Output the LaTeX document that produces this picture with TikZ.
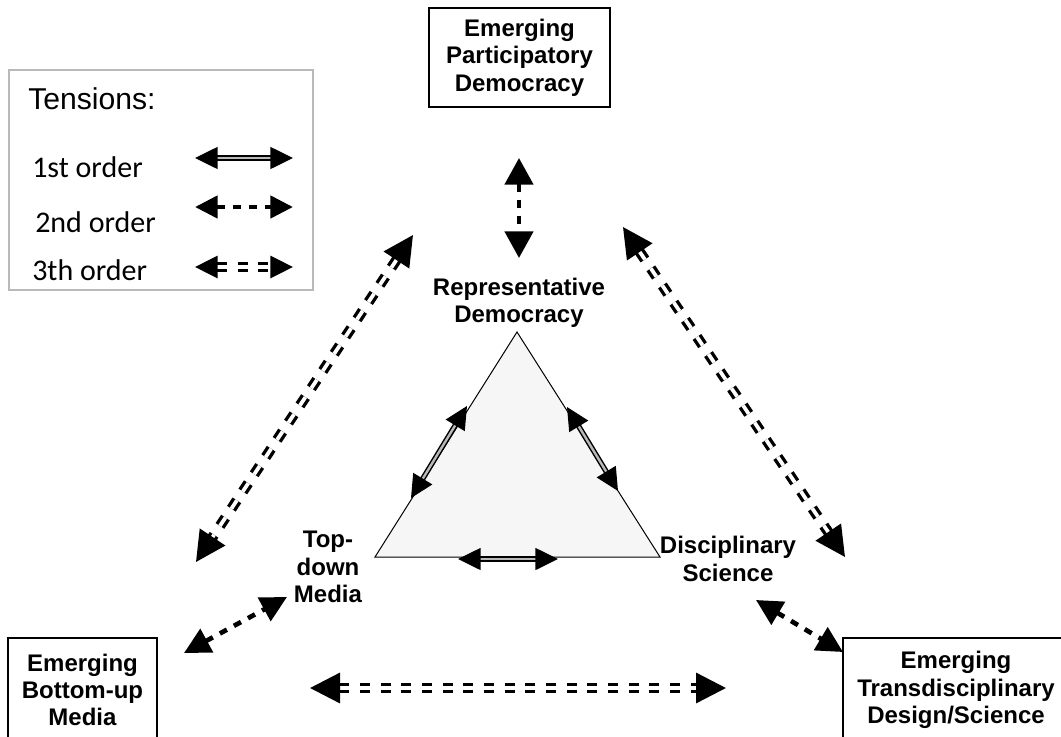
\documentclass[tikz,border=0pt]{standalone}
\usepackage{fontspec}
\setmainfont{Liberation Sans}
\newfontfamily\calib{Carlito}
\usetikzlibrary{arrows.meta}
\begin{document}
\begin{tikzpicture}[x=0.75pt,y=-0.75pt,
  lbl/.style={font=\bfseries\fontsize{18}{20.5}\selectfont, align=center, inner sep=0pt},
  box/.style={lbl, draw, line width=1.1pt},
  legtxt/.style={font=\calib\fontsize{22.5}{26}\selectfont, anchor=west, inner sep=0pt},
  bigtip/.style={{Triangle[length=22.5pt,width=22.5pt]}-{Triangle[length=22.5pt,width=22.5pt]}},
  midtip/.style={{Triangle[length=19.5pt,width=19.5pt]}-{Triangle[length=19.5pt,width=19.5pt]}},
  smalltip/.style={{Triangle[length=17pt,width=16.5pt]}-{Triangle[length=17pt,width=16.5pt]}},
  firstord/.style={line width=1.1pt, double=gray!55, double distance=1.8pt},
  secondord/.style={line width=3.5pt, dash pattern=on 6pt off 6pt},
  thirdord/.style={line width=2.5pt, double=white, double distance=2.8pt, dash pattern=on 7.5pt off 8pt},
]
\useasboundingbox (0,0) rectangle (1061,736);

% legend
\node[draw=gray!55, line width=1.1pt, minimum width=228pt, minimum height=165pt, inner sep=0pt] (legend) at (161,180) {};
\node[font=\fontsize{22.6}{26}\selectfont, anchor=west, inner sep=0pt] (tens) at (28,99) {Tensions:};
\node[legtxt] (l1) at (32,167) {1st order};
\node[legtxt] (l2) at (35,222) {2nd order};
\node[legtxt] (l3) at (32,270) {3th order};
\coordinate (g1a) at (195,158); \coordinate (g1b) at (293,158);
\coordinate (g2a) at (195,207); \coordinate (g2b) at (293,207);
\coordinate (g3a) at (195,267); \coordinate (g3b) at (293,267);
\draw[firstord, smalltip] (g1a) -- (g1b);
\draw[secondord, smalltip] (g2a) -- (g2b);
\draw[thirdord, smalltip] (g3a) -- (g3b);

% boxes
\node[box, minimum width=135.75pt, minimum height=74.25pt] (epd) at (519.5,57.5) {Emerging\\Participatory\\Democracy};
\node[box, minimum width=111.75pt, minimum height=78pt] (ebm) at (82.5,690) {Emerging\\Bottom-up\\Media};
\node[box, minimum width=169.5pt, minimum height=78pt] (etd) at (956,690) {Emerging\\Transdisciplinary\\Design/Science};

% inner labels
\node[lbl] (rd) at (519,303) {Representative\\Democracy};
\node[lbl] (tdm) at (328,567) {Top-\\down\\Media};
\node[lbl] (ds) at (728,559) {Disciplinary\\Science};

% triangle
\coordinate (T1) at (517,332);
\coordinate (T2) at (375,557);
\coordinate (T3) at (660,557);
\draw[fill=gray!7, line width=0.75pt, line join=miter] (T1) -- (T2) -- (T3) -- cycle;

% inner first-order arrows
\coordinate (iL1) at (467,406); \coordinate (iL2) at (411,498);
\coordinate (iR1) at (567,407); \coordinate (iR2) at (618,491);
\coordinate (iB1) at (458,559); \coordinate (iB2) at (558,559);
\draw[firstord, smalltip] (iL1) -- (iL2);
\draw[firstord, smalltip] (iR1) -- (iR2);
\draw[firstord, smalltip] (iB1) -- (iB2);

% second-order arrows
\coordinate (tA) at (519,158); \coordinate (tB) at (519,258);
\coordinate (sA) at (184,653); \coordinate (sB) at (287,597);
\coordinate (qA) at (756,600); \coordinate (qB) at (843,652);
\draw[secondord, {Triangle[length=20pt,width=21pt]}-{Triangle[length=20pt,width=21pt]}] (tA) -- (tB);
\draw[secondord, midtip] (sA) -- (sB);
\draw[secondord, midtip] (qA) -- (qB);

% third-order arrows
\coordinate (lA) at (413,235); \coordinate (lB) at (196,562);
\coordinate (rA) at (623,227); \coordinate (rB) at (845,557);
\coordinate (bA) at (310,688); \coordinate (bB) at (726,688);
\draw[thirdord, bigtip] (lA) -- (lB);
\draw[thirdord, bigtip] (rA) -- (rB);
\draw[thirdord, bigtip] (bA) -- (bB);
\end{tikzpicture}
\end{document}
